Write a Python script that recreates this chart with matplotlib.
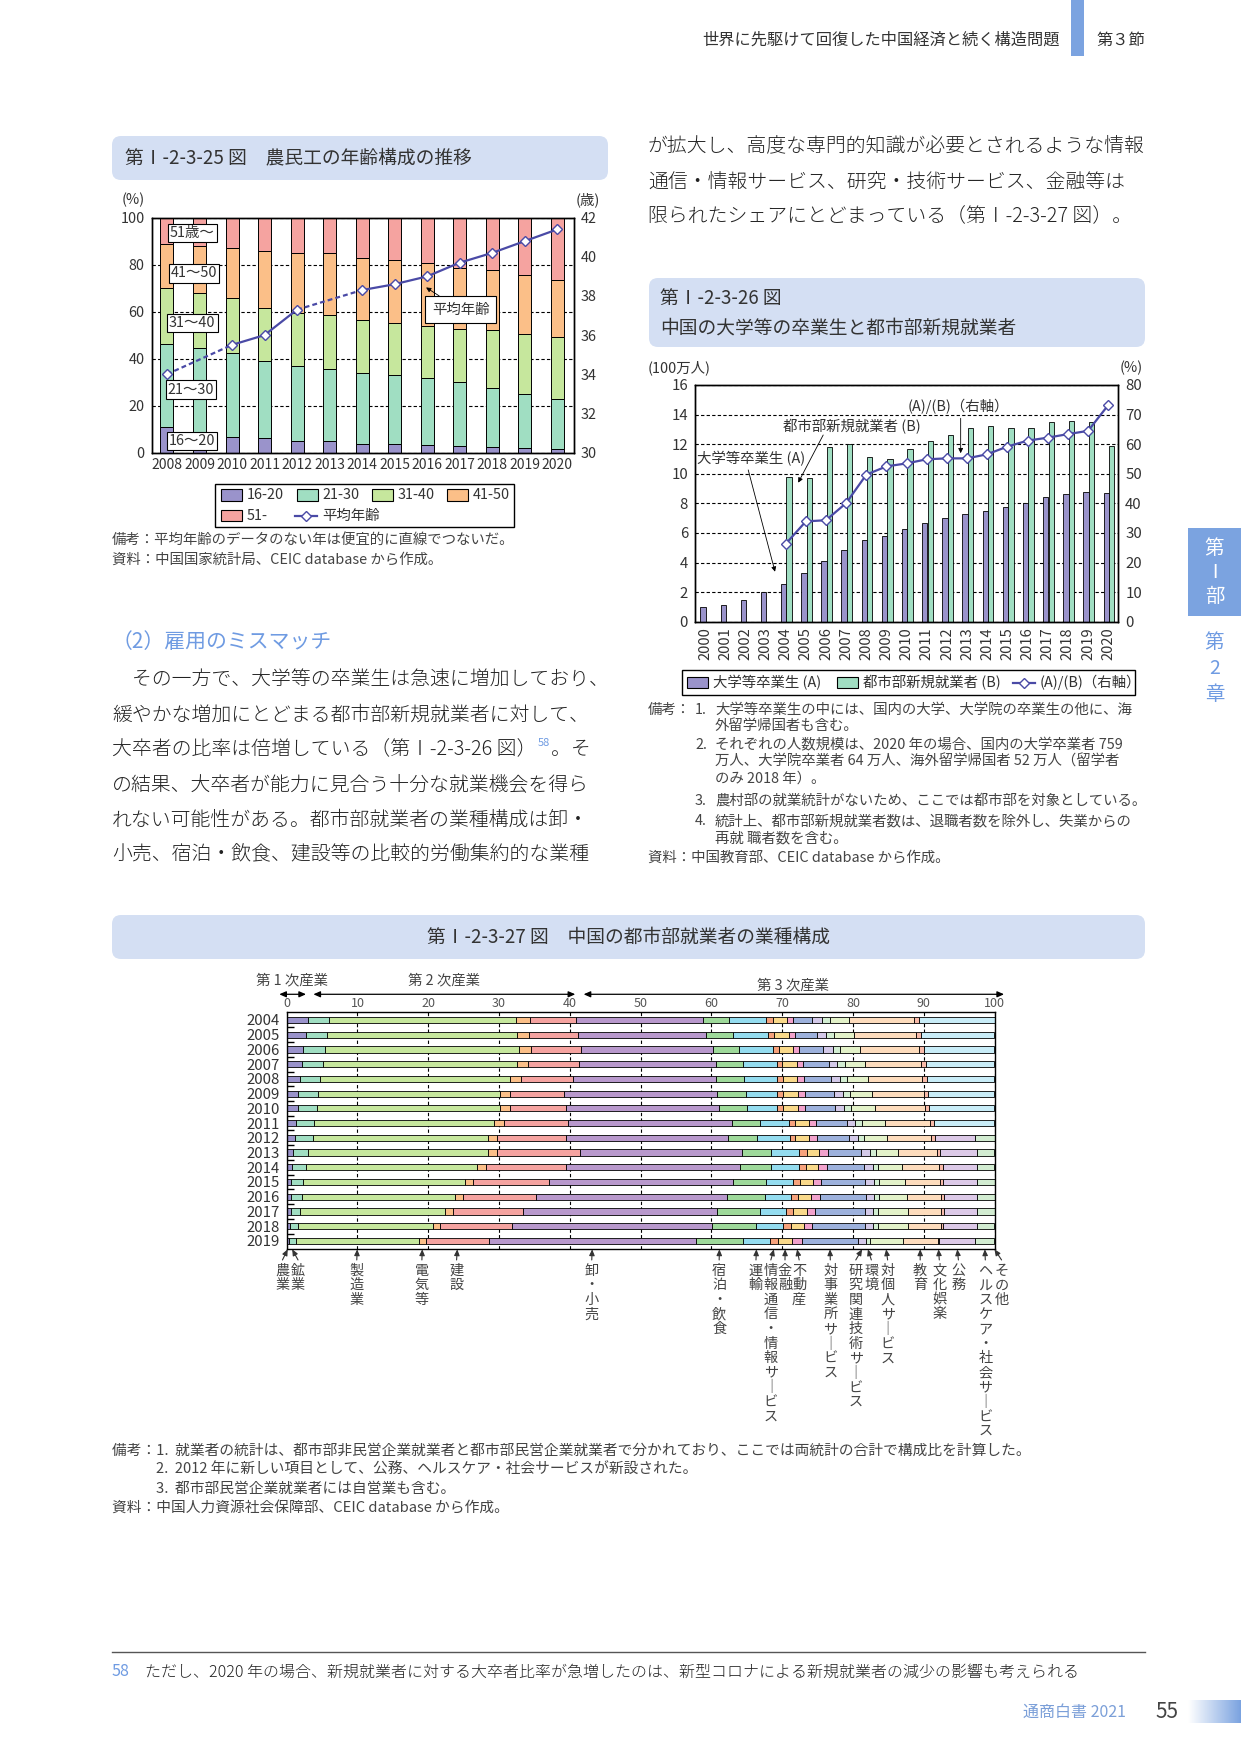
import numpy as np
import matplotlib
matplotlib.use('Agg')
import matplotlib.pyplot as plt
from matplotlib.patches import FancyBboxPatch, Rectangle
from matplotlib.colors import LinearSegmentedColormap

plt.rcParams['font.family'] = ['Noto Sans CJK JP', 'DejaVu Sans']
plt.rcParams['axes.linewidth'] = 1.0

W, H = 1241, 1754
TXT = '#333333'
NOTE = '#444444'
BLUE = '#6f9be2'
TAB = '#7ba3e0'
TITLE_BG = '#d4dff3'
LINE_C = '#4a4aa6'

# ---- 第I-2-3-25図 農民工の年齢構成の推移 (%)
years1 = ['2008', '2009', '2010', '2011', '2012', '2013', '2014',
          '2015', '2016', '2017', '2018', '2019', '2020']
age_16_20 = [10.7, 8.5, 6.5, 6.3, 4.9, 4.7, 3.5, 3.7, 3.3, 2.6, 2.4, 2.0, 1.6]
age_21_30 = [35.3, 35.8, 35.9, 32.7, 31.9, 30.8, 30.2, 29.2, 28.6, 27.3, 25.2, 23.1, 21.1]
age_31_40 = [24.0, 23.6, 23.5, 22.7, 22.5, 22.9, 22.8, 22.3, 22.0, 22.5, 24.5, 25.5, 26.7]
age_41_50 = [18.6, 19.9, 21.2, 24.0, 25.6, 26.4, 26.4, 26.9, 27.0, 26.3, 25.5, 24.8, 24.2]
age_51_ = [11.4, 12.2, 12.9, 14.3, 15.1, 15.2, 17.1, 17.9, 19.1, 21.3, 22.4, 24.6, 26.4]
age_groups = ['16-20', '21-30', '31-40', '41-50', '51-']
age_colors = ['#9a93cb', '#a0dec2', '#c6e79d', '#fbbf88', '#f5a3a0']
avg_age_years = ['2008', '2010', '2011', '2012', '2014', '2015', '2016',
                 '2017', '2018', '2019', '2020']
avg_age = [34.0, 35.5, 36.0, 37.3, 38.3, 38.6, 39.0, 39.7, 40.2, 40.8, 41.4]

# ---- 第I-2-3-26図 大学等の卒業生と都市部新規就業者
years2 = ['2000', '2001', '2002', '2003', '2004', '2005', '2006', '2007',
          '2008', '2009', '2010', '2011', '2012', '2013', '2014', '2015',
          '2016', '2017', '2018', '2019', '2020']
grads = [0.97, 1.10, 1.46, 1.98, 2.52, 3.27, 4.08, 4.82, 5.50, 5.77, 6.24,
         6.65, 6.99, 7.26, 7.46, 7.73, 8.00, 8.43, 8.61, 8.74, 8.68]
# 2004年以降
new_jobs = [9.76, 9.69, 11.79, 11.99, 11.11, 11.00, 11.65, 12.21, 12.60,
            13.07, 13.20, 13.07, 13.07, 13.48, 13.57, 13.48, 11.88]
ratio = [26.3, 33.9, 34.3, 40.1, 49.7, 52.5, 53.5, 54.9, 55.2, 55.2, 56.6,
         59.2, 61.2, 62.2, 63.4, 64.5, 73.2]

# ---- 第I-2-3-27図 都市部就業者の業種構成 (%), 2004-2019
years3 = ['2004', '2005', '2006', '2007', '2008', '2009', '2010', '2011',
          '2012', '2013', '2014', '2015', '2016', '2017', '2018', '2019']
agri = [2.97, 2.69, 2.36, 2.21, 1.93, 1.65, 1.65, 1.37, 1.23, 0.94, 0.80, 0.66, 0.66, 0.66, 0.52, 0.28]
mining = [3.06, 2.97, 3.01, 2.88, 2.83, 2.73, 2.59, 2.45, 2.45, 2.03, 1.89, 1.70, 1.46, 1.18, 1.04, 0.99]
manuf = [26.30, 26.86, 27.43, 27.43, 26.77, 25.73, 25.87, 25.44, 24.74, 25.45, 24.17, 22.81, 21.63, 20.50, 19.08, 17.39]
utility = [1.98, 1.69, 1.70, 1.55, 1.55, 1.42, 1.42, 1.42, 1.27, 1.27, 1.27, 1.13, 1.13, 1.13, 0.99, 0.99]
constr = [6.50, 6.88, 7.02, 7.21, 7.35, 7.63, 7.91, 9.05, 9.75, 11.69, 11.31, 10.69, 10.28, 9.89, 10.18, 8.91]
retail = [17.96, 18.22, 18.64, 19.44, 20.29, 21.70, 21.57, 23.12, 22.84, 22.88, 24.67, 26.00, 26.98, 27.50, 28.21, 29.20]
hotel = [3.77, 3.79, 3.78, 3.79, 3.93, 4.07, 4.06, 4.05, 4.20, 4.19, 4.34, 4.76, 5.47, 6.04, 6.32, 6.75]
transport = [5.21, 4.93, 4.79, 4.79, 4.65, 4.37, 4.23, 4.09, 4.65, 3.94, 3.94, 3.80, 3.66, 3.66, 3.80, 3.71]
info = [0.89, 0.84, 0.85, 0.70, 0.84, 0.84, 0.84, 0.84, 0.70, 1.13, 0.99, 0.99, 0.98, 0.99, 1.13, 1.22]
finance = [2.06, 2.12, 1.97, 2.11, 1.97, 2.11, 2.11, 1.97, 1.97, 1.69, 1.69, 1.83, 1.83, 1.97, 1.83, 1.97]
realestate = [0.85, 0.84, 0.84, 0.85, 0.99, 0.99, 0.99, 0.99, 1.13, 1.27, 1.27, 1.12, 1.27, 1.13, 1.13, 1.41]
business = [2.68, 3.10, 3.38, 3.66, 3.80, 4.08, 4.22, 4.36, 4.51, 4.65, 5.21, 6.20, 6.48, 7.04, 7.46, 7.88]
research = [1.45, 1.27, 1.41, 1.13, 1.27, 1.27, 1.27, 1.13, 1.26, 1.26, 1.27, 1.27, 1.13, 1.13, 1.13, 1.18]
environ = [1.08, 1.12, 0.99, 1.12, 0.98, 0.99, 0.99, 0.99, 0.85, 0.85, 0.70, 0.70, 0.70, 0.70, 0.70, 0.47]
personal = [2.68, 2.82, 2.82, 2.82, 2.96, 3.10, 3.38, 3.24, 3.24, 3.10, 3.38, 3.66, 3.95, 4.23, 4.23, 4.69]
education = [9.15, 8.73, 8.31, 7.89, 7.61, 7.32, 7.04, 6.34, 6.20, 5.49, 5.21, 4.93, 4.78, 4.64, 4.64, 4.93]
culture = [0.71, 0.71, 0.70, 0.70, 0.70, 0.56, 0.56, 0.56, 0.56, 0.42, 0.57, 0.43, 0.43, 0.43, 0.29, 0.24]
public = [0, 0, 0, 0, 0, 0, 0, 0, 5.63, 5.21, 4.78, 4.78, 4.64, 4.64, 4.78, 5.07]
health = [0, 0, 0, 0, 0, 0, 0, 0, 2.82, 2.54, 2.54, 2.54, 2.54, 2.54, 2.54, 2.72]
other = [10.70, 10.42, 10.00, 9.72, 9.58, 9.44, 9.30, 8.59, 0, 0, 0, 0, 0, 0, 0, 0]

sector_names = ['農業', '鉱業', '製造業', '電気等', '建設', '卸・小売', '宿泊・飲食',
                '運輸', '情報通信・情報サービス', '金融', '不動産', '対事業所サービス',
                '研究関連技術サービス', '環境', '対個人サービス', '教育', '文化娯楽',
                '公務', 'ヘルスケア・社会サービス', 'その他']
sector_values = [agri, mining, manuf, utility, constr, retail, hotel, transport, info,
                 finance, realestate, business, research, environ, personal, education,
                 culture, public, health, other]
sector_colors = ['#9a93cb', '#a0dec2', '#c6e79d', '#fbbf88', '#f5a3a0', '#b898cc',
                 '#9ed99a', '#94dcef', '#f6a27c', '#f9d98a', '#f2a2cc', '#9db1dc',
                 '#d3c9e8', '#d3eed2', '#e3f2c9', '#fddcbd', '#f8baa9', '#dcc9e7',
                 '#d2ecd1', '#c9edf8']
# label column centres (x in % units) for the vertical sector names
label_x = [-0.6, 1.6, 9.9, 19.1, 24.0, 43.1, 61.1, 66.3, 68.4, 70.4, 72.4, 76.8,
           80.4, 82.6, 84.9, 89.5, 92.2, 94.9, 98.7, 101.0]

fig = plt.figure(figsize=(W / 100, H / 100), dpi=100)
page = fig.add_axes([0, 0, 1, 1])
page.set_xlim(0, W)
page.set_ylim(H, 0)
page.axis('off')


def put(x, y, s, size=10.4, color=TXT, ha='left', va='center', **kw):
    return page.text(x, y, s, fontsize=size, color=color, ha=ha, va=va, **kw)


def axes_px(left, top, right, bottom):
    return fig.add_axes([left / W, 1 - bottom / H, (right - left) / W, (bottom - top) / H])


def title_box(x0, y0, x1, y1):
    page.add_patch(FancyBboxPatch((x0, y0), x1 - x0, y1 - y0,
                                  boxstyle='round,pad=0,rounding_size=9',
                                  fc=TITLE_BG, ec='none'))


renderer = fig.canvas.get_renderer()


def right_edge(t):
    bb = t.get_window_extent(renderer=renderer)
    return page.transData.inverted().transform((bb.x1, bb.y0))[0]


BODY = dict(size=14.3, color='#222222', fontweight='light')

# ---- page furniture
put(1060, 40, '世界に先駆けて回復した中国経済と続く構造問題', size=11.7, ha='right')
page.add_patch(Rectangle((1071, 0), 13, 56, fc=TAB, ec='none'))
put(1096, 40, '第３節', size=11.7)

page.add_patch(Rectangle((1188, 528), 53, 88, fc=TAB, ec='none'))
for ch, y in zip(['第', 'Ⅰ', '部'], [548, 572, 596]):
    put(1214.5, y, ch, size=14, color='white', ha='center')
for ch, y in zip(['第', '2', '章'], [643, 669, 694]):
    put(1214.5, y, ch, size=14, color=BLUE, ha='center')

body_left = ['　その一方で、大学等の卒業生は急速に増加しており、',
             '緩やかな増加にとどまる都市部新規就業者に対して、',
             None,
             'の結果、大卒者が能力に見合う十分な就業機会を得ら',
             'れない可能性がある。都市部就業者の業種構成は卸・',
             '小売、宿泊・飲食、建設等の比較的労働集約的な業種']
put(112, 642, '（2）雇用のミスマッチ', size=15, color=BLUE)
for line, y in zip(body_left, [680, 715, 750, 785, 820, 855]):
    if line is not None:
        put(112, y, line, **BODY)
t = put(112, 750, '大卒者の比率は倍増している（第Ⅰ-2-3-26 図）', **BODY)
t = put(right_edge(t) + 1, 743, '58', size=8, color=BLUE)
put(right_edge(t) + 1, 750, '。そ', **BODY)

body_right = ['が拡大し、高度な専門的知識が必要とされるような情報',
              '通信・情報サービス、研究・技術サービス、金融等は',
              '限られたシェアにとどまっている（第Ⅰ-2-3-27 図）。']
for line, y in zip(body_right, [146, 182, 217]):
    put(648, y, line, **BODY)

page.plot([112, 1145], [1652, 1652], color='#555555', lw=1)
put(112, 1672, '58', size=11.5, color=BLUE)
put(145, 1672, 'ただし、2020 年の場合、新規就業者に対する大卒者比率が急増したのは、'
    '新型コロナによる新規就業者の減少の影響も考えられる', size=11.5, color='#222222',
    fontweight='light')
put(1126, 1712, '通商白書 2021', size=11.5, color='#7b9fd8', ha='right')
put(1155, 1712, '55', size=15, color='#444444')
grad = LinearSegmentedColormap.from_list('g', ['#ffffff', TAB])
page.imshow(np.linspace(0, 1, 64).reshape(1, -1), cmap=grad, aspect='auto',
            extent=(1188, 1241, 1723, 1700))

# ================= 第I-2-3-25図 =================
title_box(112, 136, 608, 180)
put(125, 158, '第Ⅰ-2-3-25 図　農民工の年齢構成の推移', size=13.5)
put(133, 200, '(%)', ha='center')
put(588, 200, '(歳)', ha='center')

ax1 = axes_px(151.7, 217.7, 573.7, 452.5)
x1 = np.arange(len(years1))
bottom = np.zeros(len(years1))
for vals, col in zip([age_16_20, age_21_30, age_31_40, age_41_50, age_51_], age_colors):
    ax1.bar(x1, vals, 0.4, bottom=bottom, color=col, edgecolor='black', linewidth=0.7, zorder=2)
    bottom += np.array(vals)
ax1.set_xlim(-0.47, 12.51)
ax1.set_ylim(0, 100)
ax1.set_yticks(range(0, 101, 20))
ax1.set_xticks(x1, years1)
ax1.grid(axis='y', color='black', lw=0.8, ls=(0, (3, 2)))
ax1.set_axisbelow(True)
ax1.tick_params(length=0, colors=TXT)
ax1.tick_params(axis='y', labelsize=10.4, pad=5)
ax1.tick_params(axis='x', labelsize=10, pad=4)

ax1r = ax1.twinx()
ax1r.set_ylim(30, 42)
ax1r.set_yticks(range(30, 43, 2))
ax1r.tick_params(length=0, labelsize=10.4, pad=5, colors=TXT)
pos = [years1.index(y) for y in avg_age_years]
for i in range(len(pos) - 1):
    ls = '-' if pos[i + 1] - pos[i] == 1 else (0, (2.2, 1.4))
    ax1r.plot(pos[i:i + 2], avg_age[i:i + 2], color=LINE_C, lw=1.6, ls=ls, zorder=3)
ax1r.plot(pos, avg_age, ls='none', marker='D', ms=5, mfc='white', mec=LINE_C, mew=1, zorder=4)

box_labels = ['16〜20', '21〜30', '31〜40', '41〜50', '51歳〜']
box_pos = [(0.77, 4.8), (0.74, 26.8), (0.78, 55.2), (0.83, 76.3), (0.78, 93.6)]
for lab, (bx, by) in zip(box_labels, box_pos):
    ax1r.text(bx, by, lab, transform=ax1.transData, fontsize=10.4, color=TXT,
              ha='center', va='center', zorder=5,
              bbox=dict(boxstyle='square,pad=0.15', fc='white', ec='black', lw=0.8))
ax1r.annotate('平均年齢', xy=(7.97, 70.3), xycoords=ax1.transData,
              xytext=(9.03, 60.8), textcoords=ax1.transData,
              fontsize=10.4, color=TXT, ha='center', va='center', zorder=5,
              bbox=dict(boxstyle='square,pad=0.45', fc='white', ec='black', lw=0.8),
              arrowprops=dict(arrowstyle='-|>', color='black', lw=0.6,
                              mutation_scale=7, shrinkA=0, shrinkB=0))

# legend
page.add_patch(Rectangle((215, 484.3), 299.3, 42.4, fc='white', ec='black', lw=1))
for k, (lab, col) in enumerate(zip(age_groups, age_colors)):
    lx, ly = ([220.7, 296.7, 371.7, 446.7, 220.7][k], [495, 495, 495, 495, 515.7][k])
    page.add_patch(Rectangle((lx, ly - 5.6), 21, 11.2, fc=col, ec='black', lw=0.8))
    put(lx + 26, ly, lab)
page.plot([295, 316.7], [515.7, 515.7], color=LINE_C, lw=1.6)
page.plot([305.8], [515.7], marker='D', ms=5, mfc='white', mec=LINE_C, mew=1)
put(322.7, 515.7, '平均年齢')

put(112, 540, '備考：平均年齢のデータのない年は便宜的に直線でつないだ。', color=NOTE)
put(112, 560, '資料：中国国家統計局、CEIC database から作成。', color=NOTE)

# ================= 第I-2-3-26図 =================
title_box(649, 278, 1145, 347)
put(660, 298, '第Ⅰ-2-3-26 図', size=13.5)
put(660, 328, '中国の大学等の卒業生と都市部新規就業者', size=13.5)
put(648, 368, '(100万人)')
put(1131, 368, '(%)', ha='center')

ax2 = axes_px(695, 385, 1118.3, 621.7)
x2 = np.arange(len(years2))
xb = x2[len(years2) - len(new_jobs):]
ax2.bar(x2 - 0.1, grads, 0.265, color=age_colors[0], edgecolor='black', linewidth=0.6, zorder=2)
ax2.bar(xb + 0.17, new_jobs, 0.265, color=age_colors[1], edgecolor='black', linewidth=0.6, zorder=2)
ax2.set_xlim(-0.5, 20.5)
ax2.set_ylim(0, 16)
ax2.set_yticks(range(0, 17, 2))
ax2.set_xticks(x2, years2, rotation=90)
ax2.grid(axis='y', color='black', lw=0.8, ls=(0, (3, 2)))
ax2.set_axisbelow(True)
ax2.tick_params(length=0, colors=TXT)
ax2.tick_params(axis='y', labelsize=10.8, pad=5)
ax2.tick_params(axis='x', labelsize=10.6, pad=4)

ax2r = ax2.twinx()
ax2r.set_ylim(0, 80)
ax2r.set_yticks(range(0, 81, 10))
ax2r.tick_params(length=0, labelsize=10.8, pad=5, colors=TXT)
ax2r.plot(xb, ratio, color=LINE_C, lw=1.6, marker='D', ms=5.5, mfc='white',
          mec=LINE_C, mew=1, zorder=4)

arrow_kw = dict(arrowstyle='-|>', color='black', lw=0.6, mutation_scale=7, shrinkA=0, shrinkB=0)
ax2r.text(12.56, 14.54, '(A)/(B)（右軸）', transform=ax2.transData, fontsize=10.4,
          color=TXT, ha='center', va='center')
ax2r.annotate('', xy=(12.68, 11.39), xycoords=ax2.transData,
              xytext=(12.68, 13.75), textcoords=ax2.transData, arrowprops=arrow_kw)
ax2r.text(7.30, 13.19, '都市部新規就業者 (B)', transform=ax2.transData, fontsize=10.4,
          color=TXT, ha='center', va='center')
ax2r.annotate('', xy=(4.62, 9.4), xycoords=ax2.transData,
              xytext=(5.86, 12.62), textcoords=ax2.transData, arrowprops=arrow_kw)
ax2r.text(2.28, 11.05, '大学等卒業生 (A)', transform=ax2.transData, fontsize=10.4,
          color=TXT, ha='center', va='center')
ax2r.annotate('', xy=(3.47, 3.38), xycoords=ax2.transData,
              xytext=(2.14, 10.26), textcoords=ax2.transData, arrowprops=arrow_kw)

page.add_patch(Rectangle((681.7, 670), 453.3, 25, fc='white', ec='black', lw=1))
page.add_patch(Rectangle((686.7, 676.9), 21.6, 11.2, fc=age_colors[0], ec='black', lw=0.8))
put(713.3, 682.5, '大学等卒業生 (A)')
page.add_patch(Rectangle((836.7, 676.9), 21.6, 11.2, fc=age_colors[1], ec='black', lw=0.8))
put(862.7, 682.5, '都市部新規就業者 (B)')
page.plot([1012.7, 1035], [682.5, 682.5], color=LINE_C, lw=1.6)
page.plot([1023.8], [682.5], marker='D', ms=5, mfc='white', mec=LINE_C, mew=1)
put(1040, 682.5, '(A)/(B)（右軸）')

notes2 = [(648, 710, '備考：'), (695, 710, '1.'),
          (715, 710, '大学等卒業生の中には、国内の大学、大学院の卒業生の他に、海'),
          (715, 726, '外留学帰国者も含む。'),
          (695, 745, '2.'), (715, 745, 'それぞれの人数規模は、2020 年の場合、国内の大学卒業者 759'),
          (715, 762, '万人、大学院卒業者 64 万人、海外留学帰国者 52 万人（留学者'),
          (715, 779, 'のみ 2018 年）。'),
          (695, 801, '3.'), (715, 801, '農村部の就業統計がないため、ここでは都市部を対象としている。'),
          (695, 821, '4.'), (715, 821, '統計上、都市部新規就業者数は、退職者数を除外し、失業からの'),
          (715, 838, '再就 職者数を含む。'),
          (648, 858, '資料：中国教育部、CEIC database から作成。')]
for nx, ny, s in notes2:
    put(nx, ny, s, color=NOTE)

# ================= 第I-2-3-27図 =================
title_box(112, 915, 1145, 959)
put(628.5, 937, '第Ⅰ-2-3-27 図　中国の都市部就業者の業種構成', size=13.5, ha='center')

ax3 = axes_px(286.7, 1012.3, 994.5, 1249.3)
y3 = np.arange(len(years3))
left = np.zeros(len(years3))
mids_last = []
for vals, col in zip(sector_values, sector_colors):
    v = np.array(vals)
    m = v > 0
    ax3.barh(y3[m], v[m], 0.42, left=left[m], color=col, edgecolor='black',
             linewidth=0.6, zorder=2)
    mids_last.append(left[-1] + v[-1] / 2)
    left += v
ax3.set_xlim(0, 100)
ax3.set_ylim(15.57, -0.52)
ax3.xaxis.tick_top()
ax3.set_xticks(range(0, 101, 10))
ax3.set_yticks(y3, years3)
ax3.set_yticks(y3[:-1] + 0.5, minor=True)
ax3.grid(axis='x', color='black', lw=0.8, ls=(0, (3, 2)))
ax3.set_axisbelow(True)
ax3.tick_params(axis='x', length=0, labelsize=9, colors='#555555', pad=1.5)
ax3.tick_params(axis='y', which='major', length=0, labelsize=10.8, colors=TXT, pad=5)
ax3.tick_params(axis='y', which='minor', direction='in', length=5, width=1)

xt = ax3.get_xaxis_transform()
sec_kw = dict(arrowstyle='<|-|>,head_length=0.5,head_width=0.22', color='black',
              lw=0.9, mutation_scale=8, shrinkA=0, shrinkB=0)
for (a, b, cx, cy, lab) in [(-1.05, 2.73, 0.8, 1.136, '第 1 次産業'),
                            (3.77, 40.77, 22.2, 1.136, '第 2 次産業'),
                            (41.95, 101.35, 71.5, 1.115, '第 3 次産業')]:
    ax3.annotate('', xy=(b, 1.076), xycoords=xt, xytext=(a, 1.076), textcoords=xt,
                 arrowprops=sec_kw, annotation_clip=False)
    ax3.text(cx, cy, lab, transform=xt, fontsize=10.4, color=NOTE, ha='center', va='center')

up_kw = dict(arrowstyle='-|>,head_length=0.45,head_width=0.2', color='#333333',
             lw=0.8, mutation_scale=8, shrinkA=0, shrinkB=0)
for name, lx, tip in zip(sector_names, label_x, mids_last):
    ax3.annotate('', xy=(tip, 0.0), xycoords=xt, xytext=(lx, -0.045), textcoords=xt,
                 arrowprops=up_kw, annotation_clip=False)
    for k, ch in enumerate(name.replace('ー', '｜')):
        ax3.annotate(ch, xy=(lx, 0), xycoords=xt, xytext=(0, -(18.3 + 10.5 * k)),
                     textcoords='offset points', fontsize=10.2, color=NOTE,
                     ha='center', va='baseline', annotation_clip=False)

notes3 = [(112, 1451, '備考：1.  就業者の統計は、都市部非民営企業就業者と都市部民営企業就業者で'
           '分かれており、ここでは両統計の合計で構成比を計算した。'),
          (156, 1470, '2.  2012 年に新しい項目として、公務、ヘルスケア・社会サービスが新設された。'),
          (156, 1489, '3.  都市部民営企業就業者には自営業も含む。'),
          (112, 1508, '資料：中国人力資源社会保障部、CEIC database から作成。')]
for nx, ny, s in notes3:
    put(nx, ny, s, size=10.6, color=NOTE)

page.set_xlim(0, W)
page.set_ylim(H, 0)
fig.savefig('out.png', dpi=100)
